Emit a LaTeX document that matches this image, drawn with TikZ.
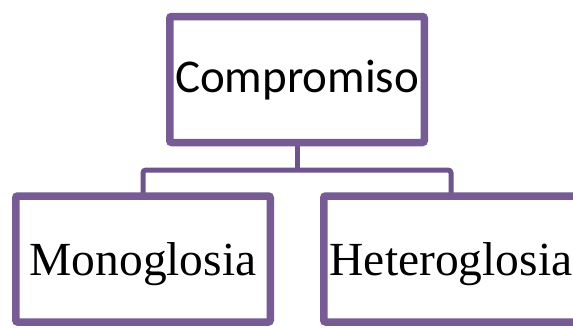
\documentclass[tikz,border=0pt]{standalone}
\usepackage{fontspec}
\newfontfamily\headface{Carlito}
\newfontfamily\leafface{Liberation Serif}
\usetikzlibrary{shadows}
\definecolor{boxpurple}{RGB}{118,91,148}
\definecolor{linkpurple}{RGB}{110,84,140}
\tikzset{
  orgbox/.style={draw=boxpurple, line width=7.5pt, fill=white, rounded corners=2pt,
    minimum width=254.5pt, minimum height=126pt, inner sep=0pt,
    drop shadow={shadow xshift=1.5pt, shadow yshift=-2.5pt, opacity=0.45, fill=black!55}},
  link/.style={draw=linkpurple, line width=5pt, rounded corners=3pt},
  headtext/.style={font=\headface\fontsize{47}{56}\selectfont, text height=30pt, text depth=5pt},
  leaftext/.style={font=\leafface\fontsize{47.5}{56}\selectfont, text height=32pt, text depth=0pt}
}
\begin{document}
\begin{tikzpicture}[x=1pt,y=1pt]
  \useasboundingbox (0,0) rectangle (573,-327);
  \clip (0,0) rectangle (573,-327);
  \fill[white] (0,0) rectangle (573,-327);
  % tree connectors
  \coordinate (j) at (297,-170);
  \coordinate (jl) at (143,-170);
  \coordinate (jr) at (451,-170);
  \draw[link] (297,-140) -- (j);
  \draw[link] (143,-195) -- (jl) -- (jr) -- (451,-195);
  % boxes
  \node[orgbox, headtext] (top) at (297,-79.5) {Compromiso};
  \node[orgbox, leaftext] (left) at (143,-259) {Monoglosia};
  \node[orgbox, leaftext] (right) at (451,-259) {Heteroglosia};
\end{tikzpicture}
\end{document}
